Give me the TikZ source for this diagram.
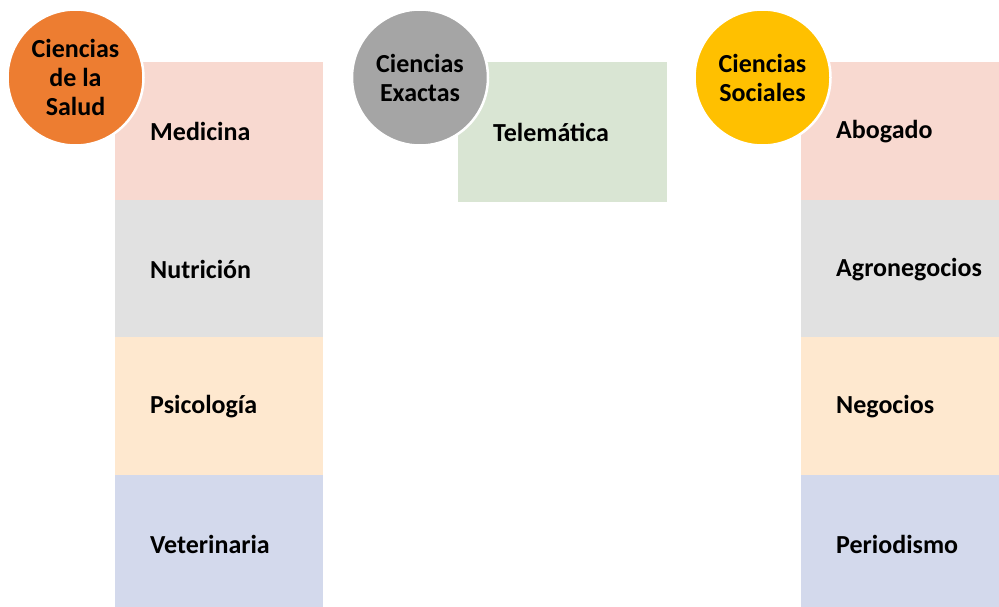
\documentclass[tikz,border=0pt]{standalone}
\usepackage{fontspec}
\setmainfont{Carlito}
\definecolor{cpink}{HTML}{F8D9D0}
\definecolor{cgray}{HTML}{E1E1E1}
\definecolor{cpeach}{HTML}{FEE8CF}
\definecolor{cblue}{HTML}{D3D9EC}
\definecolor{cgreen}{HTML}{D9E5D3}
\definecolor{corange}{HTML}{ED7D31}
\definecolor{cdgray}{HTML}{A5A5A5}
\definecolor{cyellow}{HTML}{FFC000}
\tikzset{
  cell/.style={draw=none, anchor=north west, minimum width=208pt, minimum height=137.5pt, inner sep=0pt},
  celltext/.style={anchor=west, inner sep=0pt, font=\fontsize{26}{29}\selectfont\bfseries},
  cat/.style={circle, draw=white, line width=2.5pt, minimum size=136pt, inner sep=0pt, align=center, font=\fontsize{26}{29}\selectfont\bfseries},
}
\begin{document}
\begin{tikzpicture}[x=1pt,y=-1pt]
\useasboundingbox (0,0) rectangle (999,607);
\clip (0,0) rectangle (999,607);
\fill[white] (0,0) rectangle (999,607);
% left column
\node[cell, fill=cpink]  (med) at (115,62) {};
\node[cell, fill=cgray]  (nut) at (115,199.5) {};
\node[cell, fill=cpeach] (psi) at (115,337) {};
\node[cell, fill=cblue]  (vet) at (115,474.5) {};
% middle
\node[cell, fill=cgreen, minimum width=209pt, minimum height=140pt] (tel) at (458,62) {};
% right column
\node[cell, fill=cpink]  (abo) at (801,62) {};
\node[cell, fill=cgray]  (agr) at (801,199.5) {};
\node[cell, fill=cpeach] (neg) at (801,337) {};
\node[cell, fill=cblue]  (per) at (801,474.5) {};
% labels
\node[celltext] (tmed) at ([xshift=35pt,yshift=-1pt]med.west) {Medicina};
\node[celltext] (tnut) at ([xshift=35pt,yshift=-1pt]nut.west) {Nutrición};
\node[celltext] (tpsi) at ([xshift=35pt,yshift=-1pt]psi.west) {Psicología};
\node[celltext] (tvet) at ([xshift=35pt,yshift=-1pt]vet.west) {Veterinaria};
\node[celltext] (ttel) at ([xshift=35pt,yshift=0pt]tel.west) {Telemática};
\node[celltext] (tabo) at ([xshift=35pt,yshift=-1pt]abo.west) {Abogado};
\node[celltext] (tagr) at ([xshift=35pt,yshift=-1pt]agr.west) {Agronegocios};
\node[celltext] (tneg) at ([xshift=35pt,yshift=-1pt]neg.west) {Negocios};
\node[celltext] (tper) at ([xshift=35pt,yshift=-1pt]per.west) {Periodismo};
% circles
\node[cat, fill=corange] (salud) at (75.5,77.5) {Ciencias\\de la\\Salud};
\node[cat, fill=cdgray] (exactas) at (420,77.5) {Ciencias\\Exactas};
\node[cat, fill=cyellow] (sociales) at (762.5,77.5) {Ciencias\\Sociales};
\end{tikzpicture}
\end{document}
